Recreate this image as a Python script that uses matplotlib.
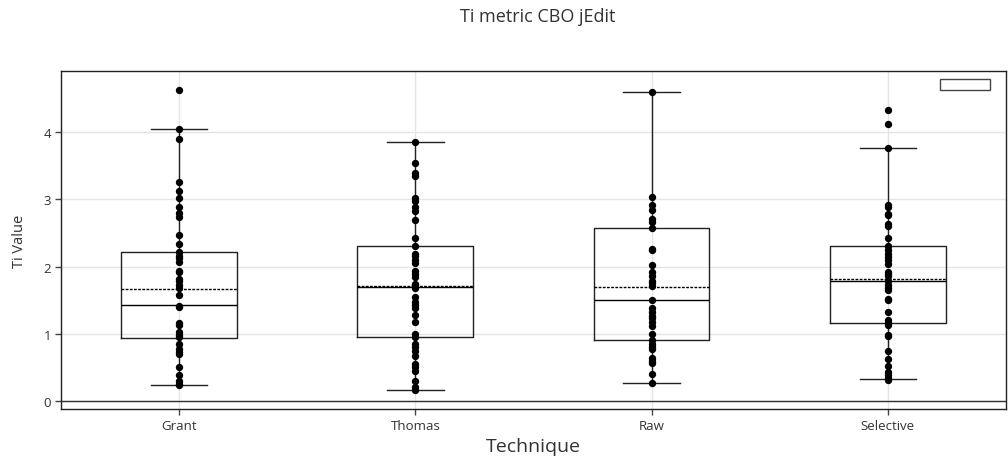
import numpy as np
import matplotlib.pyplot as plt
from matplotlib.patches import Rectangle

plt.rcParams["font.family"] = ["Open Sans", "DejaVu Sans"]

techniques = ["Grant", "Thomas", "Raw", "Selective"]

grant = [4.62, 4.05, 3.90, 3.26, 3.13, 3.02, 2.89, 2.79, 2.73, 2.47, 2.33, 2.21,
         2.16, 2.13, 2.07, 1.94, 1.92, 1.82, 1.78, 1.72, 1.68, 1.58, 1.42, 1.40,
         1.16, 1.13, 1.02, 0.98, 0.95, 0.85, 0.78, 0.73, 0.70, 0.50, 0.39, 0.29,
         0.25, 0.23]
thomas = [3.85, 3.54, 3.39, 3.34, 3.02, 2.97, 2.89, 2.82, 2.69, 2.43, 2.30, 2.19,
          2.15, 2.10, 2.05, 1.94, 1.89, 1.84, 1.74, 1.72, 1.68, 1.55, 1.47, 1.43,
          1.39, 1.28, 1.18, 1.00, 0.95, 0.85, 0.80, 0.75, 0.67, 0.55, 0.51, 0.44,
          0.30, 0.20, 0.16]
raw = [4.59, 3.03, 2.92, 2.84, 2.71, 2.67, 2.58, 2.26, 2.24, 2.02, 1.92, 1.86,
       1.79, 1.76, 1.71, 1.50, 1.39, 1.33, 1.27, 1.23, 1.17, 1.11, 1.00, 0.90,
       0.85, 0.81, 0.78, 0.64, 0.60, 0.57, 0.40, 0.27]
selective = [4.33, 4.12, 3.76, 2.92, 2.88, 2.78, 2.76, 2.63, 2.61, 2.43, 2.31,
             2.24, 2.19, 2.14, 2.09, 2.04, 1.92, 1.89, 1.86, 1.79, 1.73, 1.68,
             1.65, 1.52, 1.50, 1.32, 1.20, 1.16, 1.13, 0.98, 0.96, 0.75, 0.63,
             0.52, 0.43, 0.38, 0.34, 0.31]

# box summaries per technique
q1 = [0.93, 0.95, 0.90, 1.16]
medians = [1.43, 1.69, 1.50, 1.79]
q3 = [2.22, 2.30, 2.58, 2.30]
means = [1.67, 1.71, 1.70, 1.82]
whisk_lo = [0.23, 0.16, 0.27, 0.32]
whisk_hi = [4.05, 3.85, 4.59, 3.76]

series = [grant, thomas, raw, selective]
pos = np.arange(len(techniques))

stats = []
for i, name in enumerate(techniques):
    stats.append(dict(label=name, q1=q1[i], med=medians[i], q3=q3[i],
                      mean=means[i], whislo=whisk_lo[i], whishi=whisk_hi[i],
                      fliers=[]))

fig = plt.figure(figsize=(10.08, 4.6), dpi=100)
ax = fig.add_axes([0.0605, 0.1087, 0.9375, 0.7348])

ax.bxp(stats, positions=pos, widths=0.49, showmeans=True, meanline=True,
       showfliers=False, capwidths=0.24,
       boxprops=dict(color="#222222", linewidth=1),
       whiskerprops=dict(color="#222222", linewidth=1),
       capprops=dict(color="#222222", linewidth=1),
       medianprops=dict(color="black", linewidth=1),
       meanprops=dict(color="black", linewidth=1, linestyle=(0, (2, 1))),
       zorder=3)

# all points drawn on the box centre line
for i, vals in enumerate(series):
    ax.scatter(np.full(len(vals), pos[i]), vals, s=28, color="black", zorder=4,
               linewidths=0)

ax.axhline(0, color="#333333", linewidth=1, zorder=2)
ax.set_xlim(-0.5, 3.5)
ax.set_ylim(-0.12, 4.91)
ax.set_yticks([0, 1, 2, 3, 4])
ax.set_xticks(pos)
ax.set_xticklabels(techniques)
ax.grid(True, color="#e5e5e5", linewidth=1, zorder=0)
ax.set_axisbelow(True)
ax.tick_params(axis="both", length=4, width=1, color="#444444", labelsize=9.5,
               labelcolor="#333333", pad=3)
for s in ax.spines.values():
    s.set_color("#222222")
    s.set_linewidth(1)

ax.set_ylabel("Ti Value", fontsize=10.5, color="#333333", labelpad=12)
ax.set_xlabel("Technique", fontsize=14, color="#333333", labelpad=4)
fig.text(0.533, 0.963, "Ti metric CBO jEdit", fontsize=13, color="#333333",
         ha="center", va="center")

# empty legend entry box
ax.add_patch(Rectangle((0.93, 0.945), 0.053, 0.032, transform=ax.transAxes,
                       facecolor="white", edgecolor="#444444", linewidth=1,
                       zorder=5))

fig.savefig("out.png", dpi=100)
